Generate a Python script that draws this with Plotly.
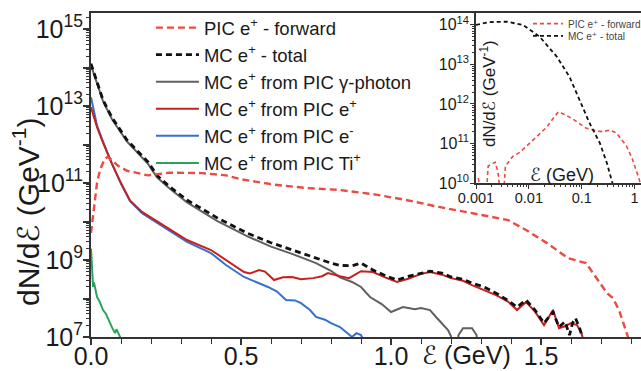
import plotly.graph_objects as go

# ---------------- data: main panel (energy in GeV, spectra as log10 of dN/dE) ----------------
fwd_x = [0.0, 0.007, 0.013, 0.02, 0.03, 0.045, 0.055, 0.07, 0.09, 0.12, 0.19, 0.26, 0.37, 0.45,
         0.50, 0.61, 0.72, 0.83, 0.95, 1.05, 1.16, 1.27, 1.39, 1.45, 1.52, 1.59, 1.62, 1.65, 1.67,
         1.69, 1.72, 1.74, 1.76, 1.79, 1.80]
fwd_log = [9.7, 10.2, 10.56, 11.0, 11.34, 11.62, 11.68, 11.6, 11.45, 11.32, 11.2, 11.27, 11.26, 11.2,
           11.1, 10.96, 10.87, 10.82, 10.7, 10.56, 10.38, 10.22, 10.04, 9.78, 9.44, 9.05, 8.98, 8.92, 8.7,
           8.48, 8.14, 8.01, 7.70, 7.0, 6.7]

total_x = [0.0, 0.01, 0.02, 0.04, 0.07, 0.12, 0.19, 0.22, 0.26, 0.32, 0.42, 0.52, 0.60, 0.67, 0.75,
           0.80, 0.83, 0.87, 0.90, 0.94, 0.98, 1.02, 1.06, 1.10, 1.13, 1.17, 1.20, 1.24, 1.27, 1.31,
           1.35, 1.39, 1.42, 1.45, 1.48, 1.51, 1.54, 1.56, 1.58, 1.595, 1.605, 1.615, 1.63, 1.645]
total_log = [14.10, 13.85, 13.6, 13.16, 12.7, 12.12, 11.55, 11.2, 10.92, 10.56, 10.1, 9.70, 9.45, 9.26, 9.05,
             8.92, 8.86, 8.85, 8.92, 8.74, 8.60, 8.48, 8.58, 8.66, 8.71, 8.66, 8.56, 8.50, 8.40, 8.30,
             8.14, 7.95, 7.78, 7.96, 7.70, 7.36, 7.65, 7.26, 7.40, 7.05, 7.36, 7.49, 7.20, 6.8]

gamma_x = [0.0, 0.01, 0.02, 0.04, 0.07, 0.12, 0.19, 0.22, 0.26, 0.32, 0.42, 0.52, 0.60, 0.67, 0.75,
           0.80, 0.83, 0.87, 0.90, 0.93, 0.97, 1.00, 1.04, 1.08, 1.10, 1.13, 1.15, 1.17, 1.19, 1.20,
           1.205, 1.215, 1.225, 1.24, 1.27, 1.285, 1.295]
gamma_log = [14.06, 13.82, 13.57, 13.13, 12.66, 12.08, 11.5, 11.15, 10.87, 10.5, 10.02, 9.62, 9.35, 9.16, 8.92,
             8.72, 8.55, 8.43, 8.30, 8.04, 7.85, 7.65, 7.78, 7.72, 7.75, 7.70, 7.52, 7.35, 7.18, 7.02,
             6.5, 6.5, 7.05, 7.23, 7.23, 7.05, 6.5]

pos_x = [0.0, 0.01, 0.02, 0.04, 0.07, 0.10, 0.13, 0.17, 0.23, 0.32, 0.40, 0.45, 0.48, 0.51, 0.53, 0.56,
         0.58, 0.61, 0.64, 0.67, 0.70, 0.74, 0.77, 0.79, 0.83, 0.86, 0.90, 0.94, 0.98, 1.02, 1.06, 1.10,
         1.13, 1.17, 1.20, 1.24, 1.27, 1.31, 1.35, 1.39, 1.42, 1.45, 1.48, 1.51, 1.54, 1.56, 1.58, 1.60,
         1.62, 1.635, 1.645]
pos_log = [12.97, 12.7, 12.45, 12.05, 11.5, 11.0, 10.55, 10.25, 9.96, 9.52, 9.26, 9.0, 8.85, 8.69, 8.65, 8.74,
           8.70, 8.48, 8.55, 8.56, 8.50, 8.53, 8.58, 8.66, 8.58, 8.53, 8.71, 8.69, 8.55, 8.43, 8.52, 8.64,
           8.69, 8.62, 8.53, 8.46, 8.35, 8.22, 8.09, 7.92, 7.70, 7.91, 7.66, 7.31, 7.70, 7.23, 7.28, 7.36,
           7.31, 7.10, 6.8]

ele_x = [0.0, 0.01, 0.02, 0.04, 0.07, 0.10, 0.13, 0.17, 0.23, 0.32, 0.40, 0.45, 0.51, 0.55, 0.59, 0.62,
         0.65, 0.68, 0.70, 0.73, 0.75, 0.78, 0.80, 0.83, 0.85, 0.87, 0.885, 0.90, 0.915]
ele_log = [13.23, 12.85, 12.5, 12.08, 11.5, 10.98, 10.53, 10.22, 9.92, 9.47, 9.18, 8.87, 8.56, 8.44, 8.30, 8.18,
           7.96, 7.95, 7.88, 7.70, 7.52, 7.45, 7.36, 7.26, 7.13, 7.0, 7.1, 7.05, 6.8]

ti_x = [0.0, 0.002, 0.004, 0.007, 0.01, 0.015, 0.02, 0.03, 0.04, 0.05, 0.063, 0.07, 0.08, 0.085, 0.09,
        0.097, 0.1]
ti_log = [9.3, 9.0, 8.6, 8.3, 8.42, 8.2, 8.04, 7.9, 7.7, 7.6, 7.36, 7.25, 7.1, 7.2, 7.12, 7.0, 6.8]

# ---------------- data: inset (log energy axis) ----------------
in_total_x = [0.001, 0.0018, 0.0038, 0.0077, 0.016, 0.034, 0.059, 0.091, 0.14, 0.22, 0.30, 0.38, 0.42]
in_total_log = [14.0, 14.07, 14.08, 14.0, 13.7, 13.19, 12.68, 12.1, 11.52, 11.01, 10.5, 10.0, 9.7]

in_fwd_x = [0.0011, 0.0012, 0.0016, 0.0017, 0.0023, 0.0026, 0.0028, 0.0034, 0.0036, 0.005, 0.0068,
            0.0091, 0.014, 0.022, 0.030, 0.036, 0.05, 0.068, 0.12, 0.19, 0.25, 0.34, 0.45, 0.7, 0.91,
            1.23, 1.3]
in_fwd_log = [10.13, 9.9, 9.9, 10.43, 10.53, 10.28, 9.9, 9.9, 10.43, 10.68, 10.78, 10.94, 11.19, 11.42,
              11.67, 11.8, 11.72, 11.62, 11.39, 11.32, 11.3, 11.34, 11.27, 10.94, 10.6, 10.08, 9.9]

main_names = ["PIC e<sup>+</sup> - forward", "MC e<sup>+</sup> - total",
              "MC e<sup>+</sup> from PIC \u03b3-photon", "MC e<sup>+</sup> from PIC e<sup>+</sup>",
              "MC e<sup>+</sup> from PIC e<sup>-</sup>", "MC e<sup>+</sup> from PIC Ti<sup>+</sup>"]
inset_names = ["PIC e\u207a - forward", "MC e\u207a - total"]
main_major_exp = [7, 8, 9, 10, 11, 12, 13, 14, 15]
inset_major_exp = [10, 11, 12, 13, 14]

RED_D = "#ec4a42"
BLACK = "#111111"
GRAY = "#606060"
RED = "#c8201f"
BLUE = "#3470cc"
GREEN = "#2aa35a"
FONT = "Liberation Sans, Arial, DejaVu Sans, sans-serif"
TXT = "#1a1a1a"


def pw(vals):
    return [10 ** v for v in vals]


fig = go.Figure()

# main panel curves (solid first, dashed on top)
fig.add_trace(go.Scatter(x=ti_x, y=pw(ti_log), mode="lines", name=main_names[5],
                         line=dict(color=GREEN, width=2), legendrank=6))
fig.add_trace(go.Scatter(x=ele_x, y=pw(ele_log), mode="lines", name=main_names[4],
                         line=dict(color=BLUE, width=2), legendrank=5))
fig.add_trace(go.Scatter(x=gamma_x, y=pw(gamma_log), mode="lines", name=main_names[2],
                         line=dict(color=GRAY, width=2), legendrank=3))
fig.add_trace(go.Scatter(x=pos_x, y=pw(pos_log), mode="lines", name=main_names[3],
                         line=dict(color=RED, width=2), legendrank=4))
fig.add_trace(go.Scatter(x=total_x, y=pw(total_log), mode="lines", name=main_names[1],
                         line=dict(color=BLACK, width=2.8, dash="6px,4px"), legendrank=2))
fig.add_trace(go.Scatter(x=fwd_x, y=pw(fwd_log), mode="lines", name=main_names[0],
                         line=dict(color=RED_D, width=2.4, dash="7px,4px"), legendrank=1))

# inset curves, each with its own small legend
fig.add_trace(go.Scatter(x=in_fwd_x, y=pw(in_fwd_log), mode="lines", name=inset_names[0],
                         xaxis="x2", yaxis="y2", legend="legend2",
                         line=dict(color=RED_D, width=1.6, dash="4px,3px")))
fig.add_trace(go.Scatter(x=in_total_x, y=pw(in_total_log), mode="lines", name=inset_names[1],
                         xaxis="x2", yaxis="y2", legend="legend3",
                         line=dict(color=BLACK, width=1.8, dash="4px,3px")))

axis_line = "#333333"
small_legend = dict(xanchor="left", yanchor="top", bgcolor="rgba(0,0,0,0)",
                    font=dict(size=10, family=FONT, color="#444444"), itemwidth=30)
fig.update_layout(
    width=641, height=371,
    margin=dict(l=91, r=0, t=13, b=34, pad=0, autoexpand=False),
    paper_bgcolor="white", plot_bgcolor="white",
    font=dict(family=FONT, color=TXT),
    xaxis=dict(domain=[0, 1], range=[0, 1.8333], showgrid=False, zeroline=False,
               tickmode="array", tickvals=[0, 0.5, 1.0, 1.5], ticktext=["0.0", "0.5", "1.0", "1.5"],
               ticks="outside", ticklen=6, tickwidth=1.5, tickcolor=axis_line,
               showline=True, linecolor=axis_line, linewidth=2, mirror=True,
               tickfont=dict(size=25, family=FONT, color=TXT), ticklabelstandoff=-10,
               minor=dict(dtick=0.1, tick0=0, ticks="outside", ticklen=5, tickwidth=1.3,
                          tickcolor=axis_line)),
    yaxis=dict(type="log", range=[7, 15.42], showgrid=False, zeroline=False,
               tickmode="array", tickvals=[10 ** e for e in main_major_exp],
               ticktext=[("10<sup>%d</sup>" % e) if e % 2 == 1 else "" for e in main_major_exp],
               ticks="outside", ticklen=6, tickwidth=1.5, tickcolor=axis_line,
               showline=True, linecolor=axis_line, linewidth=2, mirror=False,
               tickfont=dict(size=25, family=FONT, color=TXT), ticklabelstandoff=-5,
               minor=dict(tickmode="array",
                          tickvals=[m * 10 ** e for e in range(7, 16) for m in range(2, 10)],
                          ticks="outside", ticklen=3, tickwidth=1, tickcolor=axis_line)),
    xaxis2=dict(type="log", domain=[0.7, 1], anchor="y2", range=[-3, 0.12],
                showgrid=False, zeroline=False,
                tickmode="array", tickvals=[0.001, 0.01, 0.1, 1], ticktext=["0.001", "0.01", "0.1", "1"],
                ticks="outside", ticklen=4, tickwidth=1.2, tickcolor=axis_line,
                showline=True, linecolor=axis_line, linewidth=1.6,
                tickfont=dict(size=14.5, family=FONT, color=TXT), ticklabelstandoff=-3,
                minor=dict(tickmode="array",
                           tickvals=[m * 10 ** e for e in range(-3, 1) for m in range(2, 10)],
                           ticks="outside", ticklen=2, tickwidth=1, tickcolor=axis_line)),
    yaxis2=dict(type="log", domain=[0.475, 1], anchor="x2", range=[10, 14.3],
                showgrid=False, zeroline=False,
                tickmode="array", tickvals=[10 ** e for e in inset_major_exp],
                ticktext=["10<sup>%d</sup>" % e for e in inset_major_exp],
                ticks="outside", ticklen=4, tickwidth=1.2, tickcolor=axis_line,
                showline=True, linecolor=axis_line, linewidth=1.6,
                tickfont=dict(size=16, family=FONT, color=TXT), ticklabelstandoff=-2,
                minor=dict(tickmode="array",
                           tickvals=[m * 10 ** e for e in range(10, 15) for m in range(2, 10)],
                           ticks="outside", ticklen=2, tickwidth=1, tickcolor=axis_line)),
    legend=dict(x=0.109, xanchor="left", y=1.012, yanchor="top", bgcolor="rgba(0,0,0,0)",
                font=dict(size=18.5, family=FONT, color=TXT), itemwidth=43,
                traceorder="normal"),
    legend2=dict(small_legend, x=0.7945, y=1.012),
    legend3=dict(small_legend, x=0.7945, y=0.974),
    showlegend=True,
    annotations=[
        dict(text="dN/d\u2130 (GeV<sup>-1</sup>)", textangle=-90, xref="paper", yref="paper",
             x=-0.118, y=0.386, xanchor="center", yanchor="middle", showarrow=False,
             font=dict(size=30, family=FONT, color=TXT)),
        dict(text="\u2130 (GeV)", xref="paper", yref="paper", x=0.682, y=-0.056,
             xanchor="center", yanchor="middle", showarrow=False,
             font=dict(size=25, family=FONT, color=TXT)),
        dict(text="dN/d\u2130 (GeV<sup>-1</sup>)", textangle=-90, xref="paper", yref="paper",
             x=0.722, y=0.75, xanchor="center", yanchor="middle", showarrow=False,
             font=dict(size=17, family=FONT, color=TXT)),
        dict(text="\u2130 (GeV)", xref="paper", yref="paper", x=0.857, y=0.5,
             xanchor="center", yanchor="middle", showarrow=False,
             font=dict(size=18, family=FONT, color=TXT)),
    ],
)

fig.write_html("out.html")
